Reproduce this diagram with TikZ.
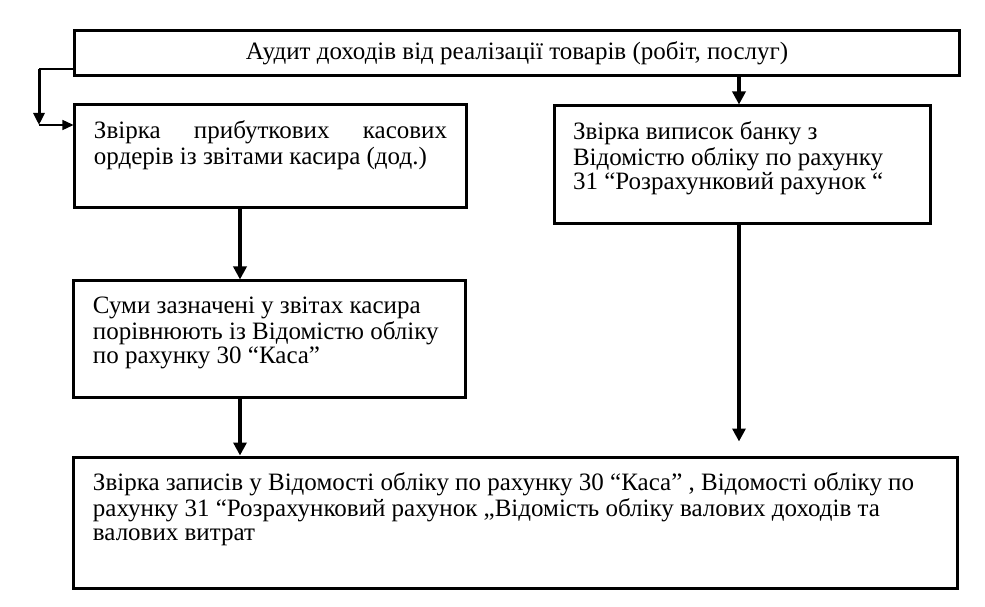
\documentclass[tikz,border=0pt]{standalone}
\usepackage{fontspec}
\setmainfont{Liberation Serif}
\usetikzlibrary{arrows.meta}
\tikzset{
  stage/.style={draw, line width=3bp, inner xsep=19bp, inner ysep=16bp,
    font=\fontsize{25bp}{24bp}\selectfont},
  flow/.style={line width=3.5bp, -{Triangle[width=13bp,length=13bp]}},
  thinflow/.style={line width=1.3bp, -{Triangle[width=10bp,length=11bp]}}
}
\newcommand{\stagetext}[3]{\parbox[c][#2][t]{#1}{\strut #3}}
\begin{document}
\begin{tikzpicture}[x=1bp, y=-1bp]
\useasboundingbox (0,0) rectangle (985,607);
\node[stage, inner sep=0pt, minimum width=884bp, minimum height=45bp] (audit) at (517,53.5) {Аудит доходів від реалізації товарів (робіт, послуг)};
\node[stage] (kasa) at (270.5,156.5) {\stagetext{353bp}{71bp}{\hbox to\linewidth{Звірка\hfill прибуткових\hfill касових}\\ордерів із звітами касира (дод.)}};
\node[stage] (bank) at (742,164.5) {\stagetext{338bp}{85bp}{Звірка виписок банку з\\Відомістю обліку по рахунку\\31 “Розрахунковий рахунок “}};
\node[stage] (zvity) at (269.5,339) {\stagetext{353bp}{84bp}{Суми зазначені у звітах касира\\порівнюють із Відомістю обліку\\по рахунку 30 “Каса”}};
\node[stage] (zvirka) at (515.5,522.5) {\stagetext{845bp}{99bp}{Звірка записів у Відомості обліку по рахунку 30 “Каса” , Відомості обліку по\\рахунку 31 “Розрахунковий рахунок „Відомість обліку валових доходів та\\валових витрат}};
% guide points
\coordinate (lx) at (240,0);
\coordinate (rx) at (739,0);
\coordinate (sp) at (39,69);
\coordinate (bend) at (39,125);
% bypass on the left
\draw[line width=1.3bp] (audit.west |- sp) -- (sp);
\draw[line width=3bp, -{Triangle[width=11bp,length=12bp]}] (sp) -- (bend);
\draw[thinflow] (bend) -- (kasa.west |- bend);
% main flow
\draw[flow] (audit.south -| rx) -- (bank.north -| rx);
\draw[flow] (kasa.south -| lx) -- (zvity.north -| lx);
\draw[flow] (zvity.south -| lx) -- (zvirka.north -| lx);
\draw[flow, shorten >=14bp] (bank.south -| rx) -- (zvirka.north -| rx);
\end{tikzpicture}
\end{document}
